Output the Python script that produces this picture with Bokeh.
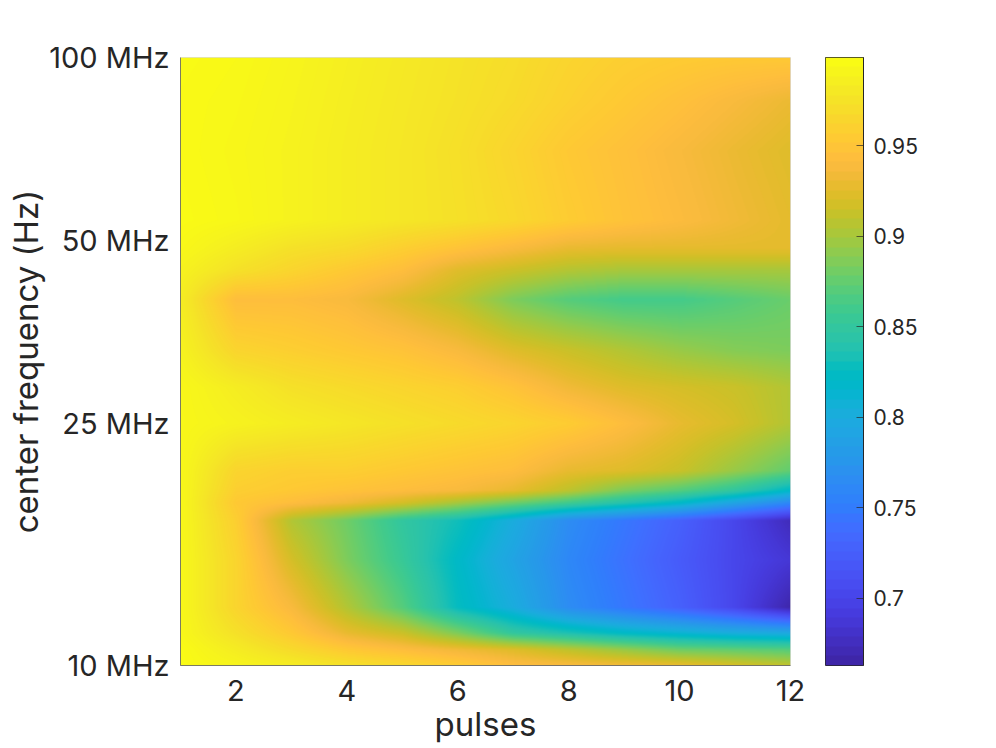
import numpy as np
from bokeh.embed import file_html
from bokeh.resources import INLINE
from bokeh.layouts import row
from bokeh.models import FixedTicker, Label, LinearColorMapper, Range1d
from bokeh.plotting import figure

pulses = [1, 2, 3, 4, 5, 6, 7, 8, 9, 10, 11, 12]
freq_mhz = [10, 10.6, 11.3, 12.45, 14.9, 17.3, 18.5, 19.4, 20.9, 25, 28.7, 33, 40, 44.6, 48.5, 54, 70.3, 85, 100]
fidelity = [
    [.998, .992, .985, .975, .968, .958, .945, .940, .935, .930, .920, .910],
    [.998, .985, .970, .955, .945, .935, .925, .910, .895, .880, .875, .870],
    [.995, .975, .955, .930, .915, .885, .850, .835, .820, .810, .800, .795],
    [.995, .965, .940, .905, .870, .825, .800, .765, .745, .725, .700, .665],
    [.995, .965, .920, .885, .855, .820, .790, .760, .740, .720, .700, .685],
    [.995, .960, .905, .880, .850, .830, .800, .765, .745, .725, .700, .672],
    [.995, .955, .945, .935, .920, .900, .880, .860, .840, .820, .790, .760],
    [.995, .960, .955, .950, .945, .940, .930, .910, .885, .870, .850, .820],
    [.995, .965, .960, .960, .955, .950, .945, .930, .925, .915, .895, .875],
    [.995, .990, .985, .980, .975, .970, .965, .958, .945, .930, .920, .905],
    [.995, .985, .975, .970, .965, .960, .950, .935, .925, .920, .915, .905],
    [.990, .965, .960, .955, .950, .940, .925, .915, .905, .895, .888, .885],
    [.985, .945, .945, .940, .925, .910, .885, .870, .862, .862, .870, .878],
    [.990, .975, .965, .955, .945, .925, .915, .905, .900, .900, .900, .900],
    [.995, .985, .975, .970, .960, .950, .940, .930, .928, .928, .928, .928],
    [.998, .995, .990, .985, .980, .975, .968, .958, .950, .943, .935, .928],
    [.997, .994, .990, .985, .980, .974, .965, .955, .948, .940, .932, .925],
    [.997, .995, .991, .986, .981, .976, .970, .962, .955, .948, .940, .932],
    [.998, .996, .992, .987, .982, .977, .972, .965, .960, .957, .955, .955],
]
cbar_ticks = [0.7, 0.75, 0.8, 0.85, 0.9, 0.95]
cbar_labels = ["0.7", "0.75", "0.8", "0.85", "0.9", "0.95"]
freq_ticks = [10, 25, 50, 100]
freq_labels = ["10 MHz", "25 MHz", "50 MHz", "100 MHz"]
pulse_ticks = [2, 4, 6, 8, 10, 12]
c_low, c_high = 0.663, 0.9986

parula = """
0.2422 0.1504 0.6603;0.2504 0.1650 0.7076;0.2578 0.1818 0.7511;0.2647 0.1978 0.7952;
0.2706 0.2147 0.8364;0.2751 0.2342 0.8710;0.2783 0.2559 0.8991;0.2803 0.2782 0.9221;
0.2813 0.3006 0.9414;0.2810 0.3228 0.9579;0.2795 0.3447 0.9717;0.2760 0.3667 0.9829;
0.2699 0.3892 0.9906;0.2602 0.4123 0.9952;0.2440 0.4358 0.9988;0.2206 0.4603 0.9973;
0.1963 0.4847 0.9892;0.1834 0.5074 0.9798;0.1786 0.5289 0.9682;0.1764 0.5499 0.9520;
0.1687 0.5703 0.9359;0.1540 0.5902 0.9218;0.1460 0.6091 0.9079;0.1380 0.6276 0.8973;
0.1248 0.6459 0.8883;0.1113 0.6635 0.8763;0.0952 0.6798 0.8598;0.0689 0.6948 0.8394;
0.0297 0.7082 0.8163;0.0036 0.7203 0.7917;0.0067 0.7312 0.7660;0.0433 0.7411 0.7394;
0.0964 0.7500 0.7120;0.1408 0.7584 0.6842;0.1717 0.7670 0.6554;0.1938 0.7758 0.6251;
0.2161 0.7843 0.5923;0.2470 0.7918 0.5567;0.2906 0.7973 0.5188;0.3406 0.8008 0.4789;
0.3909 0.8029 0.4354;0.4456 0.8024 0.3909;0.5044 0.7993 0.3480;0.5616 0.7942 0.3045;
0.6174 0.7876 0.2612;0.6720 0.7793 0.2227;0.7242 0.7698 0.1910;0.7738 0.7598 0.1646;
0.8203 0.7498 0.1535;0.8634 0.7406 0.1596;0.9035 0.7330 0.1774;0.9393 0.7288 0.2100;
0.9728 0.7298 0.2394;0.9956 0.7434 0.2371;0.9970 0.7659 0.2199;0.9952 0.7893 0.2028;
0.9892 0.8136 0.1885;0.9786 0.8386 0.1766;0.9676 0.8639 0.1643;0.9610 0.8890 0.1537;
0.9597 0.9135 0.1423;0.9628 0.9373 0.1265;0.9691 0.9606 0.1064;0.9769 0.9839 0.0805
"""
rgb = np.array([[float(v) for v in r.split()] for r in parula.replace("\n", "").split(";")])
u = np.linspace(0, 1, 256)
t = np.linspace(0, 1, len(rgb))
palette = ["#%02x%02x%02x" % tuple(int(round(np.interp(a, t, rgb[:, i]) * 255)) for i in range(3)) for a in u]
mapper = LinearColorMapper(palette=palette, low=c_low, high=c_high)

# interpolated shading of the read grid (MATLAB "shading interp"), linear in pulses and log-frequency
FW, FH = 610, 608
Z = np.array(fidelity)
xs = np.linspace(pulses[0], pulses[-1], FW)
ls = np.linspace(1, 2, FH)
by_row = np.array([np.interp(xs, pulses, r) for r in Z])
img = np.array([np.interp(ls, np.log10(freq_mhz), by_row[:, j]) for j in range(FW)]).T

TXT = "#262626"
FONT = "Inter"
H = 748
p = figure(width=807, height=H, output_backend="svg", toolbar_location=None,
           x_range=Range1d(1, 12), y_range=Range1d(10, 100), y_axis_type="log",
           min_border_left=180, min_border_right=17, min_border_top=57, min_border_bottom=H - 57 - FH)
p.image(image=[img], x=1, y=10, dw=11, dh=90, color_mapper=mapper)
p.grid.visible = False
p.outline_line_color = "#dcdcdc"
p.xaxis.ticker = FixedTicker(ticks=pulse_ticks)
p.yaxis.ticker = FixedTicker(ticks=freq_ticks)
p.yaxis.major_label_overrides = dict(zip(freq_ticks, freq_labels))
p.xaxis.axis_label = "pulses"
p.yaxis.axis_label = "center frequency (Hz)"
for ax in (p.xaxis[0], p.yaxis[0]):
    ax.major_tick_line_color = None
    ax.minor_tick_line_color = None
    ax.axis_line_color = "#262626"
    ax.axis_line_alpha = 0.55
    ax.major_label_text_font = FONT
    ax.major_label_text_font_size = "29px"
    ax.major_label_text_color = TXT
    ax.axis_label_text_font = FONT
    ax.axis_label_text_font_size = "33px"
    ax.axis_label_text_font_style = "normal"
    ax.axis_label_text_color = TXT
p.xaxis.major_label_standoff = 8
p.yaxis.major_label_standoff = 5
p.xaxis.axis_label_standoff = 0
p.yaxis.axis_label_standoff = 0

p2 = figure(width=170, height=H, output_backend="svg", toolbar_location=None,
            x_range=Range1d(0, 1), y_range=Range1d(c_low, c_high),
            min_border_left=18, min_border_right=114, min_border_top=57, min_border_bottom=H - 57 - FH,
            x_axis_location=None, y_axis_location="right")
bar = np.linspace(c_low, c_high, 64).reshape(-1, 1)
p2.image(image=[bar], x=0, y=c_low, dw=1, dh=c_high - c_low, color_mapper=mapper)
p2.grid.visible = False
p2.outline_line_color = "#262626"
ax = p2.yaxis[0]
ax.ticker = FixedTicker(ticks=cbar_ticks)
ax.major_label_overrides = dict(zip(cbar_ticks, cbar_labels))
ax.major_tick_in = 7
ax.major_tick_out = 0
ax.major_tick_line_color = "#262626"
ax.major_tick_line_alpha = 0.7
ax.minor_tick_line_color = None
ax.axis_line_color = "#262626"
ax.major_label_text_font = FONT
ax.major_label_text_font_size = "21px"
ax.major_label_text_color = TXT
ax.major_label_standoff = 10
p2.add_layout(Label(x=133, y=H - 57 - 304, x_units="screen", y_units="screen", text="Fidelity", angle=np.pi / 2,
                    text_font=FONT, text_font_size="21px", text_color=TXT, text_align="center", text_baseline="middle"))

layout = row(p, p2, spacing=0)
open("out.html", "w").write(file_html(layout, INLINE))
